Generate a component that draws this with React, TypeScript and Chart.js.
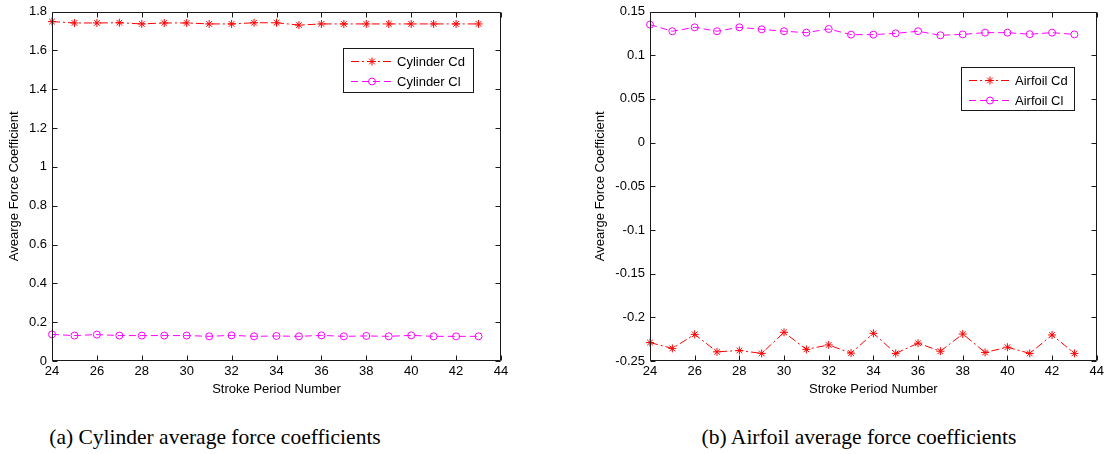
import React, { useEffect, useRef } from 'react';
import { Chart, registerables } from 'chart.js';

Chart.register(...registerables);

// ---------------- data ----------------
const strokePeriods = [24, 25, 26, 27, 28, 29, 30, 31, 32, 33, 34, 35, 36, 37, 38, 39, 40, 41, 42, 43];

const cylinderCd = [1.748, 1.741, 1.741, 1.742, 1.736, 1.741, 1.741, 1.736, 1.736, 1.742, 1.742, 1.730, 1.736, 1.736, 1.736, 1.736, 1.736, 1.736, 1.736, 1.736];
const cylinderCl = [0.137, 0.131, 0.136, 0.131, 0.131, 0.131, 0.131, 0.127, 0.132, 0.127, 0.129, 0.127, 0.132, 0.127, 0.129, 0.127, 0.132, 0.127, 0.127, 0.127];

const airfoilCd = [-0.2289, -0.2356, -0.2195, -0.2395, -0.2380, -0.2413, -0.2172, -0.2367, -0.2316, -0.2410, -0.2183, -0.2413, -0.2296, -0.2388, -0.2191, -0.2402, -0.2342, -0.2413, -0.2202, -0.2413];
const airfoilCl = [0.1350, 0.1274, 0.1319, 0.1274, 0.1319, 0.1296, 0.1274, 0.1258, 0.1300, 0.1235, 0.1235, 0.1250, 0.1274, 0.1228, 0.1238, 0.1258, 0.1258, 0.1240, 0.1258, 0.1238];

const xTicks = [24, 26, 28, 30, 32, 34, 36, 38, 40, 42, 44];
const xTickLabels = ['24', '26', '28', '30', '32', '34', '36', '38', '40', '42', '44'];

const cylYTicks = [0, 0.2, 0.4, 0.6, 0.8, 1, 1.2, 1.4, 1.6, 1.8];
const cylYTickLabels = ['0', '0.2', '0.4', '0.6', '0.8', '1', '1.2', '1.4', '1.6', '1.8'];

const airYTicks = [-0.25, -0.2, -0.15, -0.1, -0.05, 0, 0.05, 0.1, 0.15];
const airYTickLabels = ['-0.25', '-0.2', '-0.15', '-0.1', '-0.05', '0', '0.05', '0.1', '0.15'];

const xTitle = 'Stroke Period Number';
const yTitle = 'Avearge Force Coefficient';
const captionA = '(a) Cylinder average force coefficients';
const captionB = '(b) Airfoil average force coefficients';

// ---------------- styling ----------------
const SANS = '"Liberation Sans", Arial, Helvetica, sans-serif';
const RED = '#ff0000';
const MAGENTA = '#ff00ff';
const CD_DASH = [8, 3, 2, 3];
const CL_DASH = [7, 4];

Chart.defaults.font.family = SANS;
Chart.defaults.color = '#000';

const framePlugin = {
  id: 'matlabFrame',
  afterDatasetsDraw(chart: any) {
    const { ctx, chartArea: a, scales } = chart;
    const L = Math.round(a.left) + 0.5;
    const R = Math.round(a.right) - 0.5;
    const T = Math.round(a.top) + 0.5;
    const B = Math.round(a.bottom) - 0.5;
    const tl = 5;
    ctx.save();
    ctx.setLineDash([]);
    ctx.strokeStyle = '#1a1a1a';
    ctx.lineWidth = 1;
    ctx.beginPath();
    ctx.rect(L, T, R - L, B - T);
    scales.x.ticks.forEach((t: any) => {
      const px = Math.round(scales.x.getPixelForValue(t.value)) + 0.5;
      ctx.moveTo(px, B);
      ctx.lineTo(px, B - tl);
      ctx.moveTo(px, T);
      ctx.lineTo(px, T + tl);
    });
    scales.y.ticks.forEach((t: any) => {
      const py = Math.round(scales.y.getPixelForValue(t.value)) + 0.5;
      ctx.moveTo(L, py);
      ctx.lineTo(L + tl, py);
      ctx.moveTo(R, py);
      ctx.lineTo(R - tl, py);
    });
    ctx.stroke();
    ctx.restore();
  },
};

function drawMarker(ctx: CanvasRenderingContext2D, style: string, x: number, y: number, r: number, color: string) {
  ctx.save();
  ctx.setLineDash([]);
  ctx.strokeStyle = color;
  ctx.lineWidth = 1;
  ctx.beginPath();
  if (style === 'star') {
    const d = r * Math.SQRT1_2;
    ctx.moveTo(x - r, y);
    ctx.lineTo(x + r, y);
    ctx.moveTo(x, y - r);
    ctx.lineTo(x, y + r);
    ctx.moveTo(x - d, y - d);
    ctx.lineTo(x + d, y + d);
    ctx.moveTo(x - d, y + d);
    ctx.lineTo(x + d, y - d);
  } else {
    ctx.arc(x, y, r, 0, Math.PI * 2);
  }
  ctx.stroke();
  ctx.restore();
}

const legendPlugin = {
  id: 'matlabLegend',
  afterDraw(chart: any, _args: any, opts: any) {
    if (!opts || !opts.box) return;
    const { ctx } = chart;
    const { x, y, w, h } = opts.box;
    ctx.save();
    ctx.fillStyle = '#fff';
    ctx.fillRect(x, y, w, h);
    ctx.strokeStyle = '#1a1a1a';
    ctx.lineWidth = 1;
    ctx.setLineDash([]);
    ctx.strokeRect(x + 0.5, y + 0.5, w - 1, h - 1);
    chart.data.datasets.forEach((ds: any, i: number) => {
      const ry = y + 13 + i * 20;
      ctx.save();
      ctx.strokeStyle = ds.borderColor;
      ctx.lineWidth = 1;
      ctx.setLineDash(ds.borderDash || []);
      ctx.beginPath();
      ctx.moveTo(x + 8, ry + 0.5);
      ctx.lineTo(x + 50, ry + 0.5);
      ctx.stroke();
      ctx.restore();
      drawMarker(ctx, ds.pointStyle, x + 29, ry + 0.5, ds.pointStyle === 'star' ? 4 : 3.5, ds.borderColor);
      ctx.fillStyle = '#000';
      ctx.font = '13px ' + SANS;
      ctx.textAlign = 'left';
      ctx.textBaseline = 'middle';
      ctx.fillText(ds.label, x + 54, ry + 1);
    });
    ctx.restore();
  },
};

function makeDataset(label: string, values: number[], color: string, dash: number[], style: string) {
  return {
    label,
    data: strokePeriods.map((p, i) => ({ x: p, y: values[i] })),
    borderColor: color,
    backgroundColor: color,
    borderWidth: 1,
    borderDash: dash,
    pointStyle: style,
    pointRadius: style === 'star' ? 4 : 3.5,
    pointHoverRadius: style === 'star' ? 4 : 3.5,
    pointBorderColor: color,
    pointBackgroundColor: style === 'star' ? color : 'rgba(0,0,0,0)',
    pointBorderWidth: 1,
    tension: 0,
    fill: false,
    clip: false,
  };
}

function makeConfig(opts: {
  datasets: any[];
  yMin: number;
  yMax: number;
  yTicks: number[];
  yLabels: string[];
  yWidth: number;
  yTitlePad: number;
  padRight: number;
  legendBox: { x: number; y: number; w: number; h: number };
}): any {
  return {
    type: 'line',
    data: { datasets: opts.datasets },
    plugins: [framePlugin, legendPlugin],
    options: {
      responsive: false,
      animation: false,
      devicePixelRatio: 1,
      layout: { padding: { left: 0, top: 7, right: opts.padRight, bottom: 0 } },
      plugins: {
        legend: { display: false },
        tooltip: { enabled: false },
        matlabLegend: { box: opts.legendBox },
      },
      scales: {
        x: {
          type: 'linear',
          min: 24,
          max: 44,
          afterBuildTicks: (s: any) => {
            s.ticks = xTicks.map((v) => ({ value: v }));
          },
          afterFit: (s: any) => {
            s.height = 39;
          },
          grid: { display: false, drawTicks: false },
          border: { display: false },
          ticks: {
            autoSkip: false,
            maxRotation: 0,
            padding: 4,
            color: '#000',
            font: { size: 13, lineHeight: 1 },
            callback: (_v: any, i: number) => xTickLabels[i],
          },
          title: {
            display: true,
            text: xTitle,
            color: '#000',
            font: { size: 13 },
            padding: { top: 0, bottom: 3 },
          },
        },
        y: {
          type: 'linear',
          min: opts.yMin,
          max: opts.yMax,
          afterBuildTicks: (s: any) => {
            s.ticks = opts.yTicks.map((v) => ({ value: v }));
          },
          afterFit: (s: any) => {
            s.width = opts.yWidth;
          },
          grid: { display: false, drawTicks: false },
          border: { display: false },
          ticks: {
            autoSkip: false,
            padding: 5,
            color: '#000',
            font: { size: 13, lineHeight: 1 },
            callback: (_v: any, i: number) => opts.yLabels[i],
          },
          title: {
            display: true,
            text: yTitle,
            color: '#000',
            font: { size: 13 },
            padding: { top: opts.yTitlePad, bottom: 0 },
          },
        },
      },
    },
  };
}

function ChartCanvas({ config, left }: { config: any; left: number }) {
  const ref = useRef<HTMLCanvasElement | null>(null);
  useEffect(() => {
    if (!ref.current) return;
    const chart = new Chart(ref.current, config);
    return () => chart.destroy();
  }, [config]);
  return (
    <canvas
      ref={ref}
      width={554}
      height={400}
      style={{ position: 'absolute', left, top: 0, width: 554, height: 400 }}
    />
  );
}

const cylinderConfig = makeConfig({
  datasets: [
    makeDataset('Cylinder Cd', cylinderCd, RED, CD_DASH, 'star'),
    makeDataset('Cylinder Cl', cylinderCl, MAGENTA, CL_DASH, 'circle'),
  ],
  yMin: 0,
  yMax: 1.8,
  yTicks: cylYTicks,
  yLabels: cylYTickLabels,
  yWidth: 52,
  yTitlePad: 7,
  padRight: 53,
  legendBox: { x: 343, y: 48, w: 131, h: 45 },
});

const airfoilConfig = makeConfig({
  datasets: [
    makeDataset('Airfoil Cd', airfoilCd, RED, CD_DASH, 'star'),
    makeDataset('Airfoil Cl', airfoilCl, MAGENTA, CL_DASH, 'circle'),
  ],
  yMin: -0.25,
  yMax: 0.15,
  yTicks: airYTicks,
  yLabels: airYTickLabels,
  yWidth: 96,
  yTitlePad: 39,
  padRight: 11,
  legendBox: { x: 961 - 554, y: 67, w: 114, h: 44 },
});

const captionStyle: React.CSSProperties = {
  position: 'absolute',
  top: 424,
  width: 460,
  textAlign: 'center',
  fontFamily: '"Liberation Serif", "DejaVu Serif", serif',
  fontSize: 21.5,
  lineHeight: '26px',
  color: '#000',
  whiteSpace: 'nowrap',
};

export default function App() {
  return (
    <div style={{ position: 'absolute', left: 0, top: 0, width: 1108, height: 454, background: '#fff', overflow: 'hidden' }}>
      <ChartCanvas config={cylinderConfig} left={0} />
      <ChartCanvas config={airfoilConfig} left={554} />
      <div style={{ ...captionStyle, left: 215 - 230 }}>{captionA}</div>
      <div style={{ ...captionStyle, left: 859 - 230 }}>{captionB}</div>
    </div>
  );
}
